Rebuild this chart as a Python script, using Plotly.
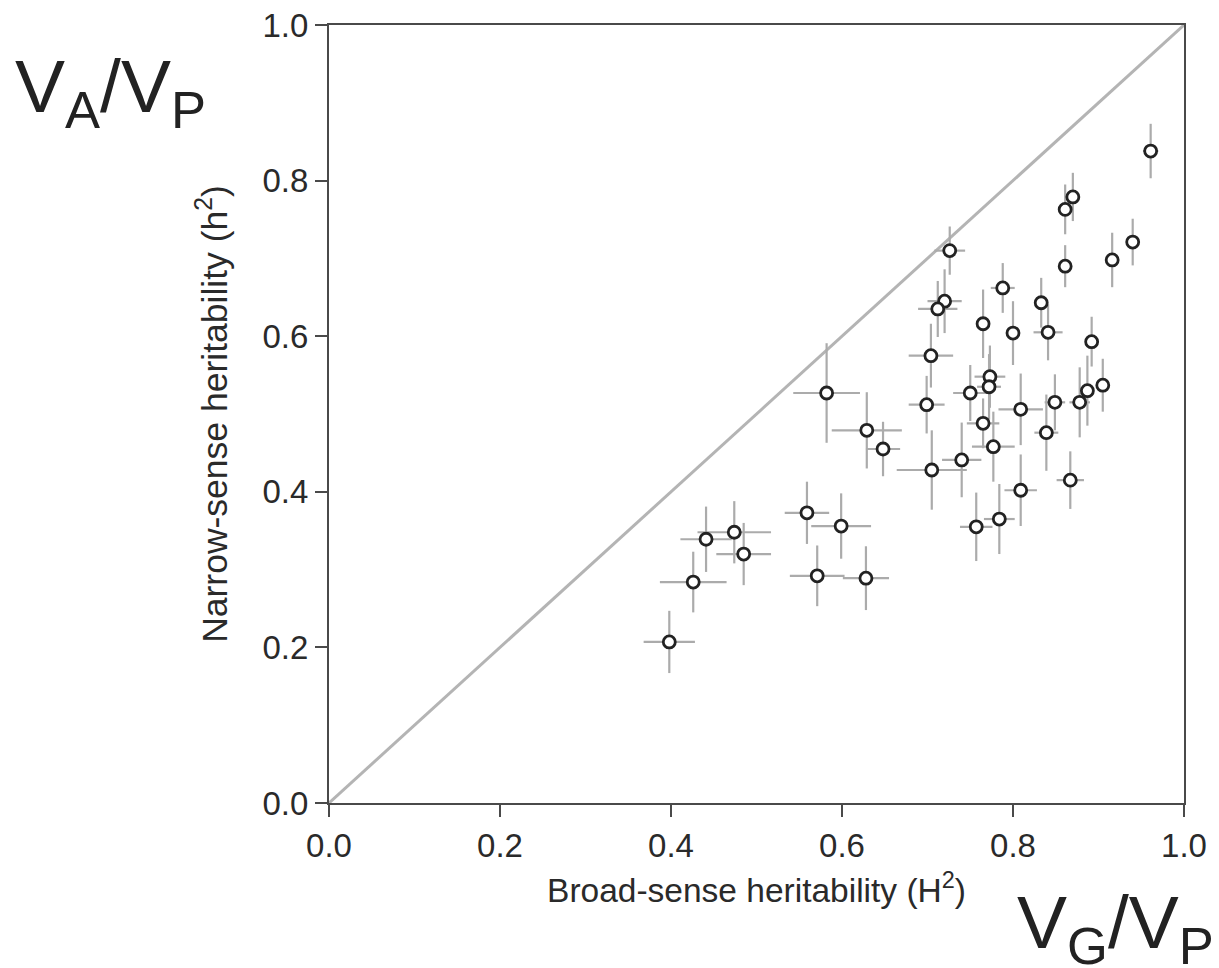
import plotly.graph_objects as go

# Broad-sense heritability (H^2) per trait
broad_H2 = [0.961, 0.870, 0.861, 0.940, 0.916, 0.861, 0.726, 0.788, 0.720, 0.712,
            0.833, 0.841, 0.765, 0.800, 0.892, 0.704, 0.773, 0.772, 0.905, 0.887,
            0.750, 0.849, 0.878, 0.699, 0.809, 0.765, 0.777, 0.839, 0.740, 0.705,
            0.867, 0.809, 0.784, 0.757, 0.582, 0.629, 0.648, 0.559, 0.599, 0.571,
            0.628, 0.441, 0.474, 0.485, 0.426, 0.398]
# Narrow-sense heritability (h^2) per trait
narrow_h2 = [0.838, 0.779, 0.763, 0.721, 0.698, 0.690, 0.710, 0.662, 0.645, 0.635,
             0.643, 0.605, 0.616, 0.604, 0.593, 0.575, 0.548, 0.535, 0.537, 0.530,
             0.527, 0.515, 0.515, 0.512, 0.506, 0.488, 0.458, 0.476, 0.441, 0.428,
             0.415, 0.402, 0.365, 0.355, 0.527, 0.479, 0.455, 0.373, 0.356, 0.292,
             0.289, 0.339, 0.348, 0.320, 0.284, 0.207]
# Error half-widths
err_H2 = [0.009, 0.006, 0.006, 0.006, 0.006, 0.006, 0.018, 0.014, 0.020, 0.023,
          0.007, 0.017, 0.007, 0.007, 0.007, 0.026, 0.018, 0.014, 0.007, 0.007,
          0.020, 0.012, 0.012, 0.021, 0.026, 0.019, 0.025, 0.014, 0.023, 0.041,
          0.016, 0.019, 0.018, 0.019, 0.039, 0.041, 0.020, 0.026, 0.035, 0.032,
          0.027, 0.030, 0.043, 0.032, 0.039, 0.030]
err_h2 = [0.035, 0.031, 0.032, 0.030, 0.035, 0.027, 0.031, 0.032, 0.041, 0.036,
          0.032, 0.036, 0.044, 0.041, 0.032, 0.041, 0.040, 0.042, 0.034, 0.045,
          0.036, 0.036, 0.045, 0.037, 0.046, 0.032, 0.045, 0.049, 0.048, 0.051,
          0.037, 0.046, 0.045, 0.044, 0.064, 0.049, 0.035, 0.040, 0.042, 0.039,
          0.041, 0.042, 0.040, 0.040, 0.039, 0.040]

diag = [0.0, 1.0]
tick_vals = [0.0, 0.2, 0.4, 0.6, 0.8, 1.0]
tick_text = ["0.0", "0.2", "0.4", "0.6", "0.8", "1.0"]

FONT = "Liberation Sans, Arial, Helvetica, sans-serif"
AXC = "#4a4a4a"

fig = go.Figure()
fig.add_trace(go.Scatter(x=diag, y=diag, mode="lines",
                         line=dict(color="#b4b4b4", width=3),
                         hoverinfo="skip", showlegend=False))
fig.add_trace(go.Scatter(
    x=broad_H2, y=narrow_h2, mode="markers",
    error_x=dict(type="data", array=err_H2, color="#ababab", thickness=2.2, width=0),
    error_y=dict(type="data", array=err_h2, color="#ababab", thickness=2.2, width=0),
    marker=dict(symbol="circle", size=12, color="white",
                line=dict(color="#222222", width=2.8)),
    showlegend=False))

axis_common = dict(range=[0, 1], tickvals=tick_vals, ticktext=tick_text,
                   showgrid=False, zeroline=False, showline=True, mirror=True,
                   linecolor=AXC, linewidth=2, ticks="outside", ticklen=12,
                   tickwidth=2, tickcolor=AXC, ticklabeloverflow="allow",
                   tickfont=dict(family=FONT, size=33, color="#2a2a2a"))

fig.update_xaxes(**axis_common,
                 title=dict(text="Broad-sense heritability (H<sup>2</sup>)",
                            font=dict(family=FONT, size=33.5, color="#2a2a2a"),
                            standoff=16))
fig.update_yaxes(**axis_common,
                 title=dict(text="Narrow-sense heritability (h<sup>2</sup>)",
                            font=dict(family=FONT, size=35.5, color="#2a2a2a"),
                            standoff=24))

fig.add_annotation(text="V<sub>A</sub>/V<sub>P</sub>", xref="paper", yref="paper",
                   x=-0.255, y=0.915, xanchor="center", yanchor="middle",
                   showarrow=False, font=dict(family=FONT, size=75, color="#222"))
fig.add_annotation(text="V<sub>G</sub>/V<sub>P</sub>", xref="paper", yref="paper",
                   x=1.037, y=-0.16, xanchor="right", yanchor="middle",
                   showarrow=False, font=dict(family=FONT, size=75, color="#222"))

fig.update_layout(width=1211, height=960,
                  margin=dict(l=321, r=35, t=17, b=165, autoexpand=False),
                  plot_bgcolor="white", paper_bgcolor="white")

fig.write_html("out.html")
